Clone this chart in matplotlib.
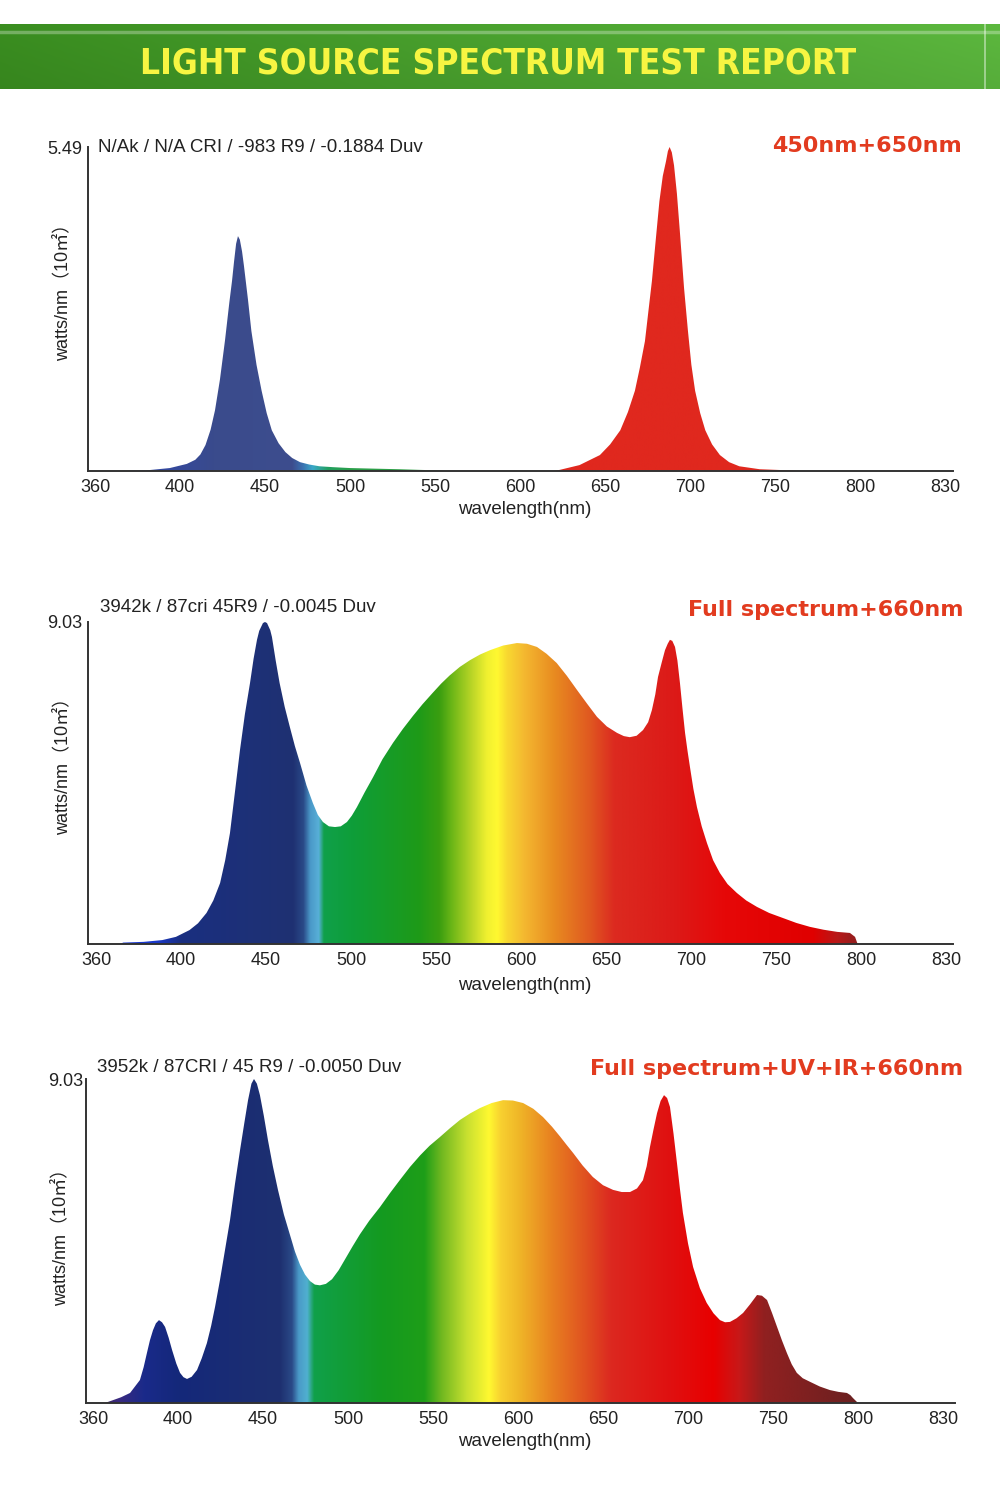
import numpy as np
import matplotlib
matplotlib.use("Agg")
import matplotlib.pyplot as plt
from matplotlib.patches import Polygon
from matplotlib.colors import to_rgb
from matplotlib import font_manager as fm

# ---------------- data ----------------
tick_labels = ["360", "400", "450", "500", "550", "600", "650", "700", "750", "800", "830"]

title_main = "LIGHT SOURCE SPECTRUM TEST REPORT"
ylabel_text = "watts/nm（10㎡）"
xlabel_text = "wavelength(nm)"

c1_title = "450nm+650nm"
c1_info = "N/Ak / N/A CRI / -983 R9 / -0.1884 Duv"
c1_ymax = 5.49
c1_blue_wl = [363.5, 380, 394, 404, 409, 412, 415, 418, 420.6, 423.5, 426.5, 429, 430.6, 431.8,
              433, 434.1, 435.2, 436.5, 437.6, 440, 442, 445, 448, 451, 454, 458, 462, 466,
              470.6, 476, 482, 490, 500, 514, 529, 540, 552, 556]
c1_blue_val = [0, 0.01, 0.05, 0.12, 0.19, 0.28, 0.44, 0.7, 1.03, 1.55, 2.22, 2.85, 3.22, 3.55,
               3.85, 3.98, 3.92, 3.72, 3.48, 2.9, 2.37, 1.8, 1.36, 0.98, 0.69, 0.47, 0.32, 0.22,
               0.15, 0.11, 0.08, 0.065, 0.05, 0.04, 0.03, 0.02, 0.01, 0]
c1_red_wl = [620, 623.5, 635, 647, 653, 659, 663.5, 667.6, 670.5, 673.5, 675.5, 677.6, 679.8,
             682, 684, 685.9, 687, 688, 689.3, 690.6, 692.3, 694, 696.5, 698.8, 700.8, 703,
             706, 709, 713, 717.6, 723, 729, 741, 759, 765]
c1_red_val = [0, 0.02, 0.10, 0.27, 0.45, 0.69, 1.0, 1.36, 1.75, 2.2, 2.7, 3.22, 3.9,
              4.57, 5.0, 5.25, 5.42, 5.49, 5.4, 5.18, 4.7, 4.07, 3.1, 2.37, 1.8, 1.36,
              0.98, 0.69, 0.45, 0.27, 0.15, 0.08, 0.03, 0.01, 0]

c2_title = "Full spectrum+660nm"
c2_info = "3942k / 87cri 45R9 / -0.0045 Duv"
c2_ymax = 9.03
c2_wl = [364, 366, 378, 389, 397, 405, 410, 415, 419, 423, 426, 428.8, 431.7, 434.7, 437.6,
         440.6, 442.7, 444.7, 446, 448.2, 449.4, 450.6, 452.5, 453.5, 455.7, 458, 461, 464,
         467, 470, 473.8, 477.6, 480.5, 483.5, 487, 490.6, 494, 497.6, 500.5, 503.5, 508,
         513, 518.5, 524.7, 530.5, 536.5, 542, 548, 553, 558, 564, 570, 576, 581.8, 589.5,
         597.6, 603.5, 609.4, 615, 621, 627, 633, 639, 644.7, 650.5, 656.5, 660.5, 664,
         668, 671.8, 674.8, 677, 679, 680.6, 682.8, 684.7, 686.3, 687.6, 689, 690.6, 692,
         693.5, 695, 696.5, 698, 699.4, 701.4, 703.5, 706.3, 709.4, 713, 717, 721.5, 727,
         732.5, 738.8, 746, 754, 762, 770, 778, 786, 793.5, 796.5, 798]
c2_val = [0, 0.04, 0.06, 0.11, 0.2, 0.39, 0.58, 0.87, 1.22, 1.71, 2.35, 3.11, 4.25, 5.44, 6.45,
          7.32, 8.0, 8.53, 8.78, 9.0, 9.03, 9.0, 8.8, 8.61, 7.95, 7.32, 6.65, 6.09,
          5.55, 5.08, 4.45, 3.95, 3.62, 3.42, 3.3, 3.28, 3.3, 3.42, 3.6, 3.84, 4.25,
          4.68, 5.18, 5.64, 6.03, 6.4, 6.72, 7.04, 7.3, 7.53, 7.77, 7.96, 8.12, 8.24, 8.37,
          8.44, 8.42, 8.33, 8.14, 7.88, 7.52, 7.12, 6.73, 6.37, 6.1, 5.92, 5.83, 5.8,
          5.84, 6.0, 6.22, 6.56, 7.0, 7.49, 7.9, 8.24, 8.42, 8.53, 8.5, 8.33, 7.95,
          7.32, 6.6, 5.92, 5.4, 4.96, 4.35, 3.84, 3.3, 2.83, 2.35, 1.99, 1.68, 1.43,
          1.22, 1.04, 0.87, 0.73, 0.59, 0.48, 0.4, 0.34, 0.31, 0.2, 0]

c3_title = "Full spectrum+UV+IR+660nm"
c3_info = "3952k / 87CRI / 45 R9 / -0.0050 Duv"
c3_ymax = 9.03
c3_wl = [357, 361.8, 366.5, 371.8, 377.6, 379.8, 381.7, 383.5, 385.3, 387, 388.8, 390.6, 392.4,
         394.5, 396.5, 399, 401.2, 403.2, 405.3, 408, 411.2, 414, 417, 419.5, 421.8, 424.7,
         427.6, 430.6, 433.5, 436.5, 439, 441.2, 443.2, 444.7, 446.4, 448.2, 450.5, 452.9,
         455.8, 458.8, 462.3, 465.9, 468.8, 471.8, 474.7, 477.6, 480.5, 483.5, 487, 490.6,
         494.5, 498.2, 502.5, 507, 512.5, 518.8, 524.7, 530.6, 536.5, 542.4, 548, 554, 560,
         565.9, 571.8, 577.6, 584.5, 591.2, 597, 603, 609, 614.7, 620, 624.7, 628.5, 632.4,
         638, 644, 650, 655.9, 661, 665.9, 670, 673.5, 675.7, 677.6, 679.7, 681.8, 683.9,
         685.9, 687.7, 689.4, 691.5, 693.5, 695.3, 697, 700, 703, 707, 711, 715, 718.8,
         721.8, 724.7, 728.5, 732.4, 736.5, 740.6, 743.5, 746.5, 749.5, 752.4, 755.3, 758.2,
         761, 764, 767.5, 771.8, 777.5, 783.5, 788.5, 793.5, 795.5, 797, 800]
c3_val = [0, 0.08, 0.16, 0.28, 0.64, 1.0, 1.39, 1.75, 2.03, 2.22, 2.31, 2.25, 2.12,
          1.82, 1.48, 1.1, 0.84, 0.72, 0.67, 0.73, 0.92, 1.25, 1.67, 2.15, 2.68, 3.43,
          4.25, 5.1, 6.1, 7.05, 7.8, 8.44, 8.9, 9.03, 8.9, 8.58, 8.0, 7.33,
          6.6, 5.94, 5.25, 4.68, 4.22, 3.85, 3.58, 3.4, 3.3, 3.28, 3.32, 3.45,
          3.7, 4.0, 4.35, 4.7, 5.08, 5.46, 5.85, 6.22, 6.58, 6.9, 7.17, 7.41, 7.66,
          7.89, 8.07, 8.22, 8.36, 8.44, 8.43, 8.36, 8.2, 7.97, 7.7, 7.43, 7.2, 6.97,
          6.62, 6.3, 6.07, 5.94, 5.88, 5.88, 5.98, 6.21, 6.6, 7.13, 7.62, 8.08, 8.42,
          8.58, 8.5, 8.25, 7.5, 6.69, 5.95, 5.3, 4.45, 3.79, 3.2, 2.79, 2.5, 2.31,
          2.25, 2.26, 2.36, 2.51, 2.75, 3.01, 2.99, 2.87, 2.5, 2.12, 1.74, 1.39,
          1.08, 0.84, 0.69, 0.59, 0.46, 0.36, 0.31, 0.28, 0.22, 0.14, 0]

# ---------------- styles ----------------
stops1 = [(345, "#2a48b0"), (395, "#34489c"), (420, "#3a4b8c"), (466, "#3d4d8e"),
          (472, "#3a70b0"), (478, "#3aa8c8"), (487, "#22a060"), (500, "#2a9e4a"),
          (560, "#30a040"), (600, "#e0281e"), (860, "#e0281e")]
stops2 = [(345, "#1a3ae0"), (386, "#1a38c8"), (400, "#1a2f80"), (466, "#1f3172"),
          (472, "#2a4a88"), (476, "#4a98c8"), (481, "#58b0d8"), (484, "#10a04a"),
          (500, "#0e9e3a"), (540, "#1e9a18"), (552, "#3a9e10"), (560, "#70b818"),
          (572, "#c0d828"), (580, "#f0f030"), (586, "#fff830"), (592, "#f8d830"),
          (602, "#f4b830"), (620, "#e88a20"), (640, "#e05a20"), (655, "#dc2a20"),
          (690, "#dc1a18"), (720, "#e60808"), (772, "#e00000"), (786, "#b81818"),
          (800, "#8a2020"), (860, "#8a2020")]
stops3 = [(345, "#402040"), (365, "#3a2a80"), (380, "#1a2a8a"), (400, "#14287a"),
          (460, "#1e3070"), (467, "#2a4a88"), (471, "#4a9ac8"), (476, "#50b0d0"),
          (480, "#10a04a"), (520, "#149a20"), (545, "#1e9e18"), (555, "#70b820"),
          (570, "#c8e030"), (583, "#fff830"), (590, "#f8d030"), (600, "#f0b828"),
          (620, "#e88020"), (640, "#e05020"), (655, "#dc2820"), (690, "#e01010"),
          (715, "#e80000"), (730, "#c81818"), (745, "#902020"), (800, "#6a2020"),
          (860, "#6a2020")]

W, H = 1000, 1485
fig = plt.figure(figsize=(W / 100, H / 100), dpi=100)
fig.patch.set_facecolor("white")

TXT = ["Liberation Sans", "Noto Sans CJK SC", "DejaVu Sans"]
RED = "#e23b1f"


def grad_image(ax, stops, x0, x1, y1):
    lam = np.linspace(x0, x1, 1500)
    sw = [s[0] for s in stops]
    cols = np.array([to_rgb(s[1]) for s in stops])
    rgb = np.stack([np.interp(lam, sw, cols[:, k]) for k in range(3)], axis=-1)
    im = ax.imshow(rgb[np.newaxis, :, :], extent=[x0, x1, 0, y1], aspect="auto",
                   interpolation="bilinear", origin="lower", zorder=1)
    return im


def panel(L, R, T, B, px350, ymax, series, stops, info, info_xy, title, title_xy, ylab_xy,
          xlab_y, ypad):
    ax = fig.add_axes([L / W, 1 - B / H, (R - L) / W, (B - T) / H])
    x0 = 350 + (L - px350) / 1.7
    x1 = 350 + (R - px350) / 1.7
    for wl, val in series:
        im = grad_image(ax, stops, x0, x1, ymax)
        verts = np.column_stack([wl, val])
        poly = Polygon(verts, closed=True, transform=ax.transData, facecolor="none",
                       edgecolor="none")
        ax.add_patch(poly)
        im.set_clip_path(poly)
    ax.set_xlim(x0, x1)
    ax.set_ylim(0, ymax)
    for s in ["top", "right"]:
        ax.spines[s].set_visible(False)
    for s in ["left", "bottom"]:
        ax.spines[s].set_color("#333333")
        ax.spines[s].set_linewidth(1.4)
        ax.spines[s].set_zorder(5)
    ax.set_xticks(np.arange(350, 851, 50))
    ax.set_xticklabels(tick_labels, fontsize=13, family=TXT, color="#222222")
    ax.set_yticks([ymax])
    ax.set_yticklabels([f"{ymax:.2f}"], fontsize=13, family=TXT, color="#222222")
    ax.tick_params(axis="x", length=0, pad=6)
    ax.tick_params(axis="y", length=0, pad=ypad)
    ax.set_facecolor("white")
    fig.text(info_xy[0] / W, 1 - info_xy[1] / H, info, fontsize=13.5, family=TXT,
             color="#222222", ha="left", va="center")
    fig.text(title_xy[0] / W, 1 - title_xy[1] / H, title, fontsize=16, family="DejaVu Sans",
             fontweight="bold", color=RED, ha="right", va="center")
    fig.text(ylab_xy[0] / W, 1 - ylab_xy[1] / H, ylabel_text, fontsize=13, family=TXT,
             color="#222222", rotation=90, ha="center", va="center")
    fig.text(525 / W, 1 - xlab_y / H, xlabel_text, fontsize=13.5, family=TXT,
             color="#222222", ha="center", va="center")
    return ax


panel(88, 953, 147, 471, 95, c1_ymax,
      [(c1_blue_wl, c1_blue_val), (c1_red_wl, c1_red_val)], stops1,
      c1_info, (98, 148), c1_title, (962, 146), (62, 288), 509, 4)
panel(88, 953, 622, 944, 96, c2_ymax, [(c2_wl, c2_val)], stops2,
      c2_info, (100, 607), c2_title, (963, 610), (62, 762), 985, 4)
panel(86, 955, 1079, 1403, 93, c3_ymax, [(c3_wl, c3_val)], stops3,
      c3_info, (97, 1067), c3_title, (963, 1069), (60, 1233), 1441, 2)

# ---------------- banner ----------------
bt, bb = 24, 89
bax = fig.add_axes([0, 1 - bb / H, 1, (bb - bt) / H])
bax.set_xlim(0, W)
bax.set_ylim(bb, bt)
bax.axis("off")
gx = np.linspace(0, 1, 600)
c_left = np.array(to_rgb("#3a8e20"))
c_right = np.array(to_rgb("#5cb83e"))
ban = c_left[None, :] * (1 - gx[:, None]) + c_right[None, :] * gx[:, None]
vy = np.linspace(0, 1, 65)
shade = 1 - 0.06 * vy
img = ban[None, :, :] * shade[:, None, None]
bax.imshow(img, extent=[0, W, bb, bt], aspect="auto", interpolation="bilinear", zorder=1)
bax.plot([0, W], [31.5, 31.5], color="white", alpha=0.3, lw=2.5, zorder=2)
bax.plot([985, 985], [bt, bb], color="white", alpha=0.5, lw=1.2, zorder=2)

names = {f.name for f in fm.fontManager.ttflist}
cond = [f for f in fm.fontManager.ttflist
        if f.name == "DejaVu Sans" and "condensed" in str(f.stretch).lower()]
if "Liberation Sans Narrow" in names:
    tfam, tstretch = "Liberation Sans Narrow", "normal"
elif cond:
    tfam, tstretch = "DejaVu Sans", "condensed"
else:
    tfam, tstretch = "Liberation Sans", "normal"
ttl = bax.text(498, 63, title_main, fontsize=26, fontweight="bold", family=tfam,
               fontstretch=tstretch, color="#f7f542", ha="center", va="center", zorder=3)
fig.canvas.draw()
wpx = ttl.get_window_extent(fig.canvas.get_renderer()).width
ttl.set_fontsize(26 * 717.0 / wpx)

fig.savefig("out.png", dpi=100, facecolor="white")
